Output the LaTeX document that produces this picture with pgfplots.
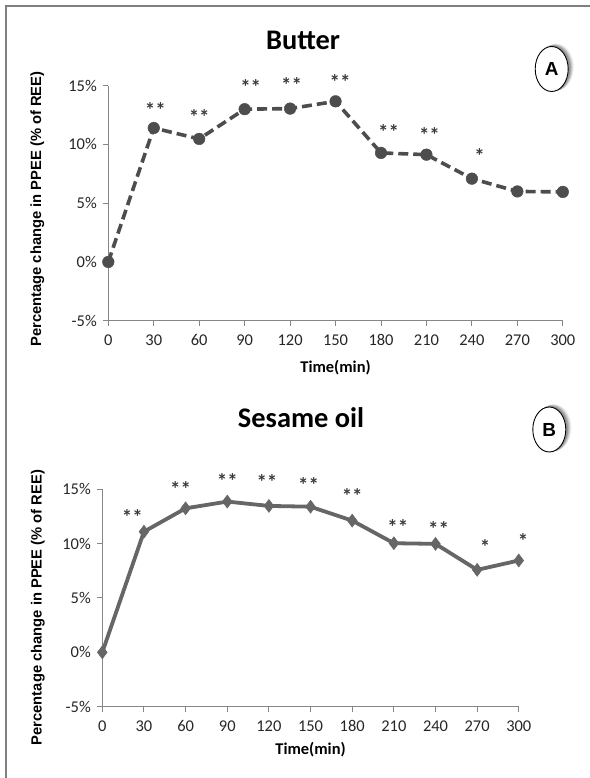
\documentclass[border=0pt]{standalone}
\usepackage{fontspec}
\setmainfont{Carlito}
\newfontfamily\arialfont{Liberation Sans}
\usepackage{pgfplots}
\pgfplotsset{compat=1.18}
\usetikzlibrary{shapes.geometric}

\definecolor{lineA}{HTML}{4D4D4D}
\definecolor{lineB}{HTML}{666666}
\definecolor{axgray}{HTML}{868686}
\definecolor{framegray}{HTML}{7F7F7F}
\definecolor{stargray}{HTML}{3A3A3A}

\pgfplotsset{
  panel/.style={
    scale only axis,
    xmin=0, xmax=300, ymin=-5, ymax=15,
    axis lines=left,
    axis line style={axgray, line width=1.1bp, -},
    xtick={0,30,...,300}, ytick={-5,0,5,10,15},
    tick align=outside, major tick length=5bp,
    tick style={axgray, line width=1bp},
    yticklabel={\pgfmathprintnumber{\tick}\%},
    /pgf/number format/assume math mode=true,
    ticklabel style={font=\fontsize{16.5}{16.5}\selectfont, text=black!85},
    xticklabel style={text height=10bp, text depth=0bp, yshift=-6bp},
    yticklabel style={xshift=-3bp},
    clip=false,
    xlabel={Time(min)},
    ylabel={Percentage change in PPEE (\% of REE)},
    xlabel style={font=\fontsize{16.5}{16.5}\selectfont\bfseries, anchor=center},
    ylabel style={font=\arialfont\bfseries\fontsize{14.8}{14.8}\selectfont, anchor=center},
  },
  stars/.style={only marks, mark=text,
    text mark={\raisebox{-5bp}{\fontsize{21}{21}\selectfont\bfseries\color{stargray}#1}}},
}

% badge with a soft shadow to the right
\newcommand{\badge}[3]{%
  \foreach \s/\o in {4.5/0.06,3.8/0.08,3.1/0.1,2.4/0.12,1.7/0.14}{%
    \fill[black, opacity=\o] ([xshift=\s bp, yshift=0.4*\s bp]#1,#2)
      ellipse [x radius=16.5bp+0.25*\s bp, y radius=22.5bp+0.25*\s bp];}
  \node[draw=black, line width=0.9bp, ellipse, minimum width=33bp, minimum height=45bp,
    inner sep=0pt, fill=white, font=\arialfont\bfseries\fontsize{19}{19}\selectfont]
    at (#1,#2) {#3};}

\begin{document}
\begin{tikzpicture}
\path[use as bounding box] (0,0) rectangle (590bp,778bp);
\draw[framegray, line width=1.3bp] (6bp,0) -- (6bp,772bp) -- (590bp,772bp);

% Panel A: Butter
\begin{axis}[panel, at={(108.3bp,457.3bp)}, anchor=south west,
  width=454.5bp, height=235bp,
  xlabel style={at={(axis description cs:0.5,-0.201)}},
  ylabel style={at={(axis description cs:-0.156,0.475)}}]
\addplot[lineA, line width=3.6bp, dash pattern=on 10bp off 5bp,
  mark=*, mark size=5.8bp, mark options={solid, fill=lineA, draw=lineA, line width=0.5bp}]
  coordinates {(0,0) (30,11.4) (60,10.47) (90,13.0) (120,13.05) (150,13.67)
               (180,9.28) (210,9.13) (240,7.09) (270,6.0) (300,5.96)};
\addplot[stars={**}] coordinates {(31,12.96) (60,12.34) (94,14.9) (121,15.1) (153,15.3) (185,11.04) (212,10.84)};
\addplot[stars={*}] coordinates {(245,9.05)};
\end{axis}

% Panel B: Sesame oil
\begin{axis}[panel, at={(102.3bp,71.3bp)}, anchor=south west,
  width=416.5bp, height=217.4bp,
  xlabel style={at={(axis description cs:0.5,-0.199)}},
  ylabel style={at={(axis description cs:-0.155,0.456)}}]
\addplot[lineB, line width=3.8bp,
  mark=diamond*, mark size=6.5bp, mark options={fill=lineB, draw=lineB, line width=0.5bp}]
  coordinates {(0,0) (30,11.1) (60,13.25) (90,13.87) (120,13.47) (150,13.4)
               (180,12.12) (210,10.04) (240,9.98) (270,7.59) (300,8.45)};
\addplot[stars={**}] coordinates {(21.6,12.49) (56.4,15.0) (90,15.8) (118.6,15.64) (148.6,15.4) (180,14.4) (212.9,11.57) (242.2,11.36)};
\addplot[stars={*}] coordinates {(275.8,9.73) (303,10.28)};
\end{axis}

% titles
\node[font=\fontsize{28.5}{28.5}\selectfont\bfseries] at (303bp,738bp) {Butter};
\node[font=\fontsize{28.5}{28.5}\selectfont\bfseries] at (301bp,360bp) {Sesame oil};

% badges
\badge{551.7bp}{709bp}{A}
\badge{549.3bp}{348.5bp}{B}
\end{tikzpicture}
\end{document}
